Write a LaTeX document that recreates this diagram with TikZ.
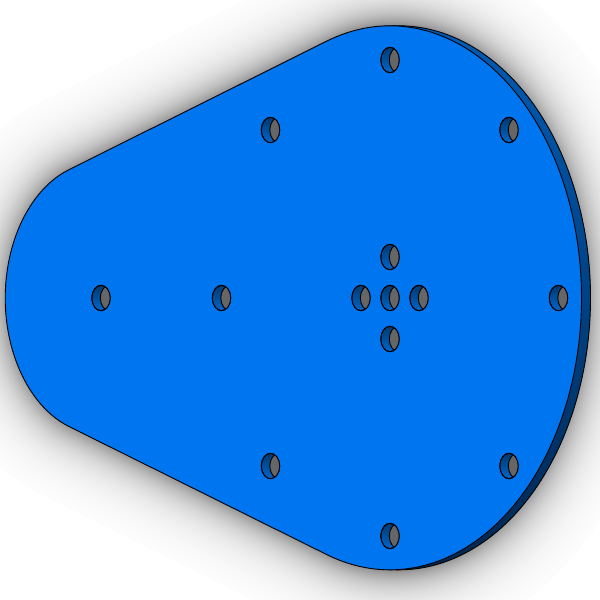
\documentclass[tikz,border=0pt]{standalone}
\usepackage{xcolor}
\usetikzlibrary{calc}
\definecolor{plateBlue}{HTML}{0075F0}
\definecolor{rimTop}{HTML}{0060BC}
\definecolor{rimMid}{HTML}{0058AE}
\definecolor{rimLow}{HTML}{00264F}
\definecolor{boreDark}{HTML}{003A70}
\definecolor{boreLight}{HTML}{0066CC}
\definecolor{boreGrey}{HTML}{666666}
\def\platepath{(327,559) arc[start angle=109.2,end angle=-109.2,x radius=191.5,y radius=272]
  -- (69,173.5) arc[start angle=250.8,end angle=109.2,x radius=95,y radius=136] -- cycle}
\begin{document}
\begin{tikzpicture}[
  x=1pt, y=1pt,
  outline/.style={draw=black, line width=0.9pt, line join=round},
  plate/.style={outline, fill=plateBlue},
  rim/.style={outline, top color=rimTop, middle color=rimMid, bottom color=rimLow},
  bore/.style={outline, top color=boreDark, bottom color=boreLight},
  exit/.style={outline, fill=boreGrey}
]
\useasboundingbox (0,0) rectangle (600,600);
\fill[white] (0,0) rectangle (600,600);

% soft shadow round the plate
\foreach \w in {150,148,...,2}{
  \pgfmathsetmacro{\shade}{46*exp(-\w/40)}
  \draw[black!\shade!white, line width=\w pt, line join=round, shift={(4,0)}] \platepath;
}

% side of the plate, then its face
\path[rim, shift={(9,0)}] \platepath;
\path[plate] \platepath;

% through holes
\foreach \hx/\hy [count=\i] in {390/540, 270.5/470, 509/470, 390/343, 361/302, 390/302, 419/302,
    558.5/302, 101/302, 221.5/302, 390/261, 270.5/134, 509/134, 390/64}{
  \coordinate (hole\i) at (\hx,\hy);
  \path[bore] (hole\i) ellipse[x radius=9.2, y radius=12.7];
  \begin{scope}
    \clip (hole\i) ellipse[x radius=9.2, y radius=12.7];
    \path[exit] ($(hole\i)+(8.5,0)$) ellipse[x radius=9.2, y radius=12.7];
  \end{scope}
  \draw[outline] (hole\i) ellipse[x radius=9.2, y radius=12.7];
}
\end{tikzpicture}
\end{document}
